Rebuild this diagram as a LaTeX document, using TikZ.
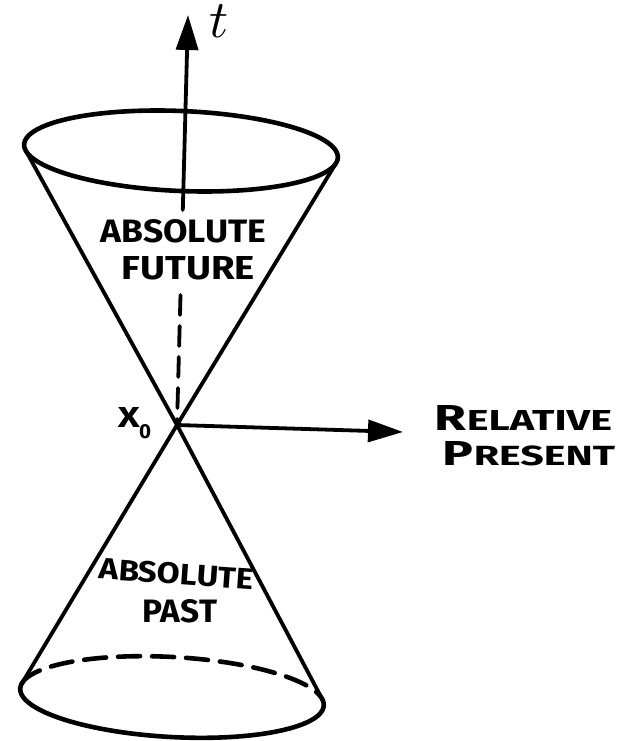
\documentclass[tikz,border=0pt]{standalone}
\usepackage{fontspec}
\usepackage{graphicx}
\newfontfamily\hand{Fira Sans}
\usetikzlibrary{arrows.meta}
\newcommand\fitlab[3]{\resizebox{#1pt}{#2pt}{\hand\bfseries #3}}
\newcommand\bigsmall[2]{{\fontsize{12.5}{13}\selectfont #1}{\fontsize{10}{10}\selectfont #2}}
\tikzset{
  ink/.style={line width=3.8pt, line cap=round, line join=round},
  rim/.style={line width=4.6pt, line cap=round, line join=round},
  bigtip/.style={-{Triangle[length=35pt,width=22pt]}},
  lab/.style={inner sep=0pt, outer sep=0pt}
}
\begin{document}
\begin{tikzpicture}[x=1pt,y=-1pt]
\useasboundingbox (0,0) rectangle (617,741);
% key points
\coordinate (O) at (177,425);
\coordinate (T) at (188,15);
\coordinate (S) at (182.8,210);
\coordinate (D) at (180.5,295);
\coordinate (H) at (403,432);
% top ellipse (tilted)
\begin{scope}[shift={(181,151)}, rotate=-2.4]
  \draw[rim] plot[domain=0:360, samples=120, smooth cycle] ({157*cos(\x)},{40*sin(\x)});
  \coordinate (TL) at ({157*cos(171.2)},{40*sin(171.2)});
  \coordinate (TR) at ({157*cos(8.0)},{40*sin(8.0)});
\end{scope}
% bottom ellipse (tilted)
\begin{scope}[shift={(172,697)}, rotate=-3.2]
  \draw[rim, dash pattern=on 22pt off 12pt] plot[domain=-172.1:-9.1, samples=60, smooth] ({152*cos(\x)},{40*sin(\x)});
  \draw[rim] plot[domain=-9.1:187.9, samples=90, smooth] ({152*cos(\x)},{40*sin(\x)});
  \coordinate (BL) at ({152*cos(-172.1)},{40*sin(-172.1)});
  \coordinate (BR) at ({152*cos(-9.1)},{40*sin(-9.1)});
\end{scope}
% cone sides
\draw[ink] (TL) -- (O) -- (BR);
\draw[ink] (TR) -- (O) -- (BL);
% time axis
\draw[ink, bigtip] (S) -- (T);
\draw[ink, dash pattern=on 20pt off 11pt] (D) -- (O);
% space axis
\draw[ink, bigtip] (O) -- (H);
% labels
\node[lab, anchor=base] (tl) at (219,38) {\scalebox{5.3}{$t$}};
\node[lab] (f1) at (183.5,231.5) {\fitlab{165}{23}{ABSOLUTE}};
\node[lab] (f2) at (188.5,268.5) {\fitlab{133}{23}{FUTURE}};
\node[lab] (x0) at (129,417) {\fitlab{22}{20}{X}};
\node[lab] (x0s) at (145,432) {\fitlab{12}{14}{0}};
\node[lab] (r1) at (523.5,418) {\fitlab{177}{25}{\bigsmall{R}{ELATIVE}}};
\node[lab] (r2) at (529,454) {\fitlab{172}{24}{\bigsmall{P}{RESENT}}};
\node[lab, rotate=-4] (p1) at (176.5,574) {\fitlab{155}{21}{ABSOLUTE}};
\node[lab] (p2) at (180,611.5) {\fitlab{74}{23}{PAST}};
\end{tikzpicture}
\end{document}
